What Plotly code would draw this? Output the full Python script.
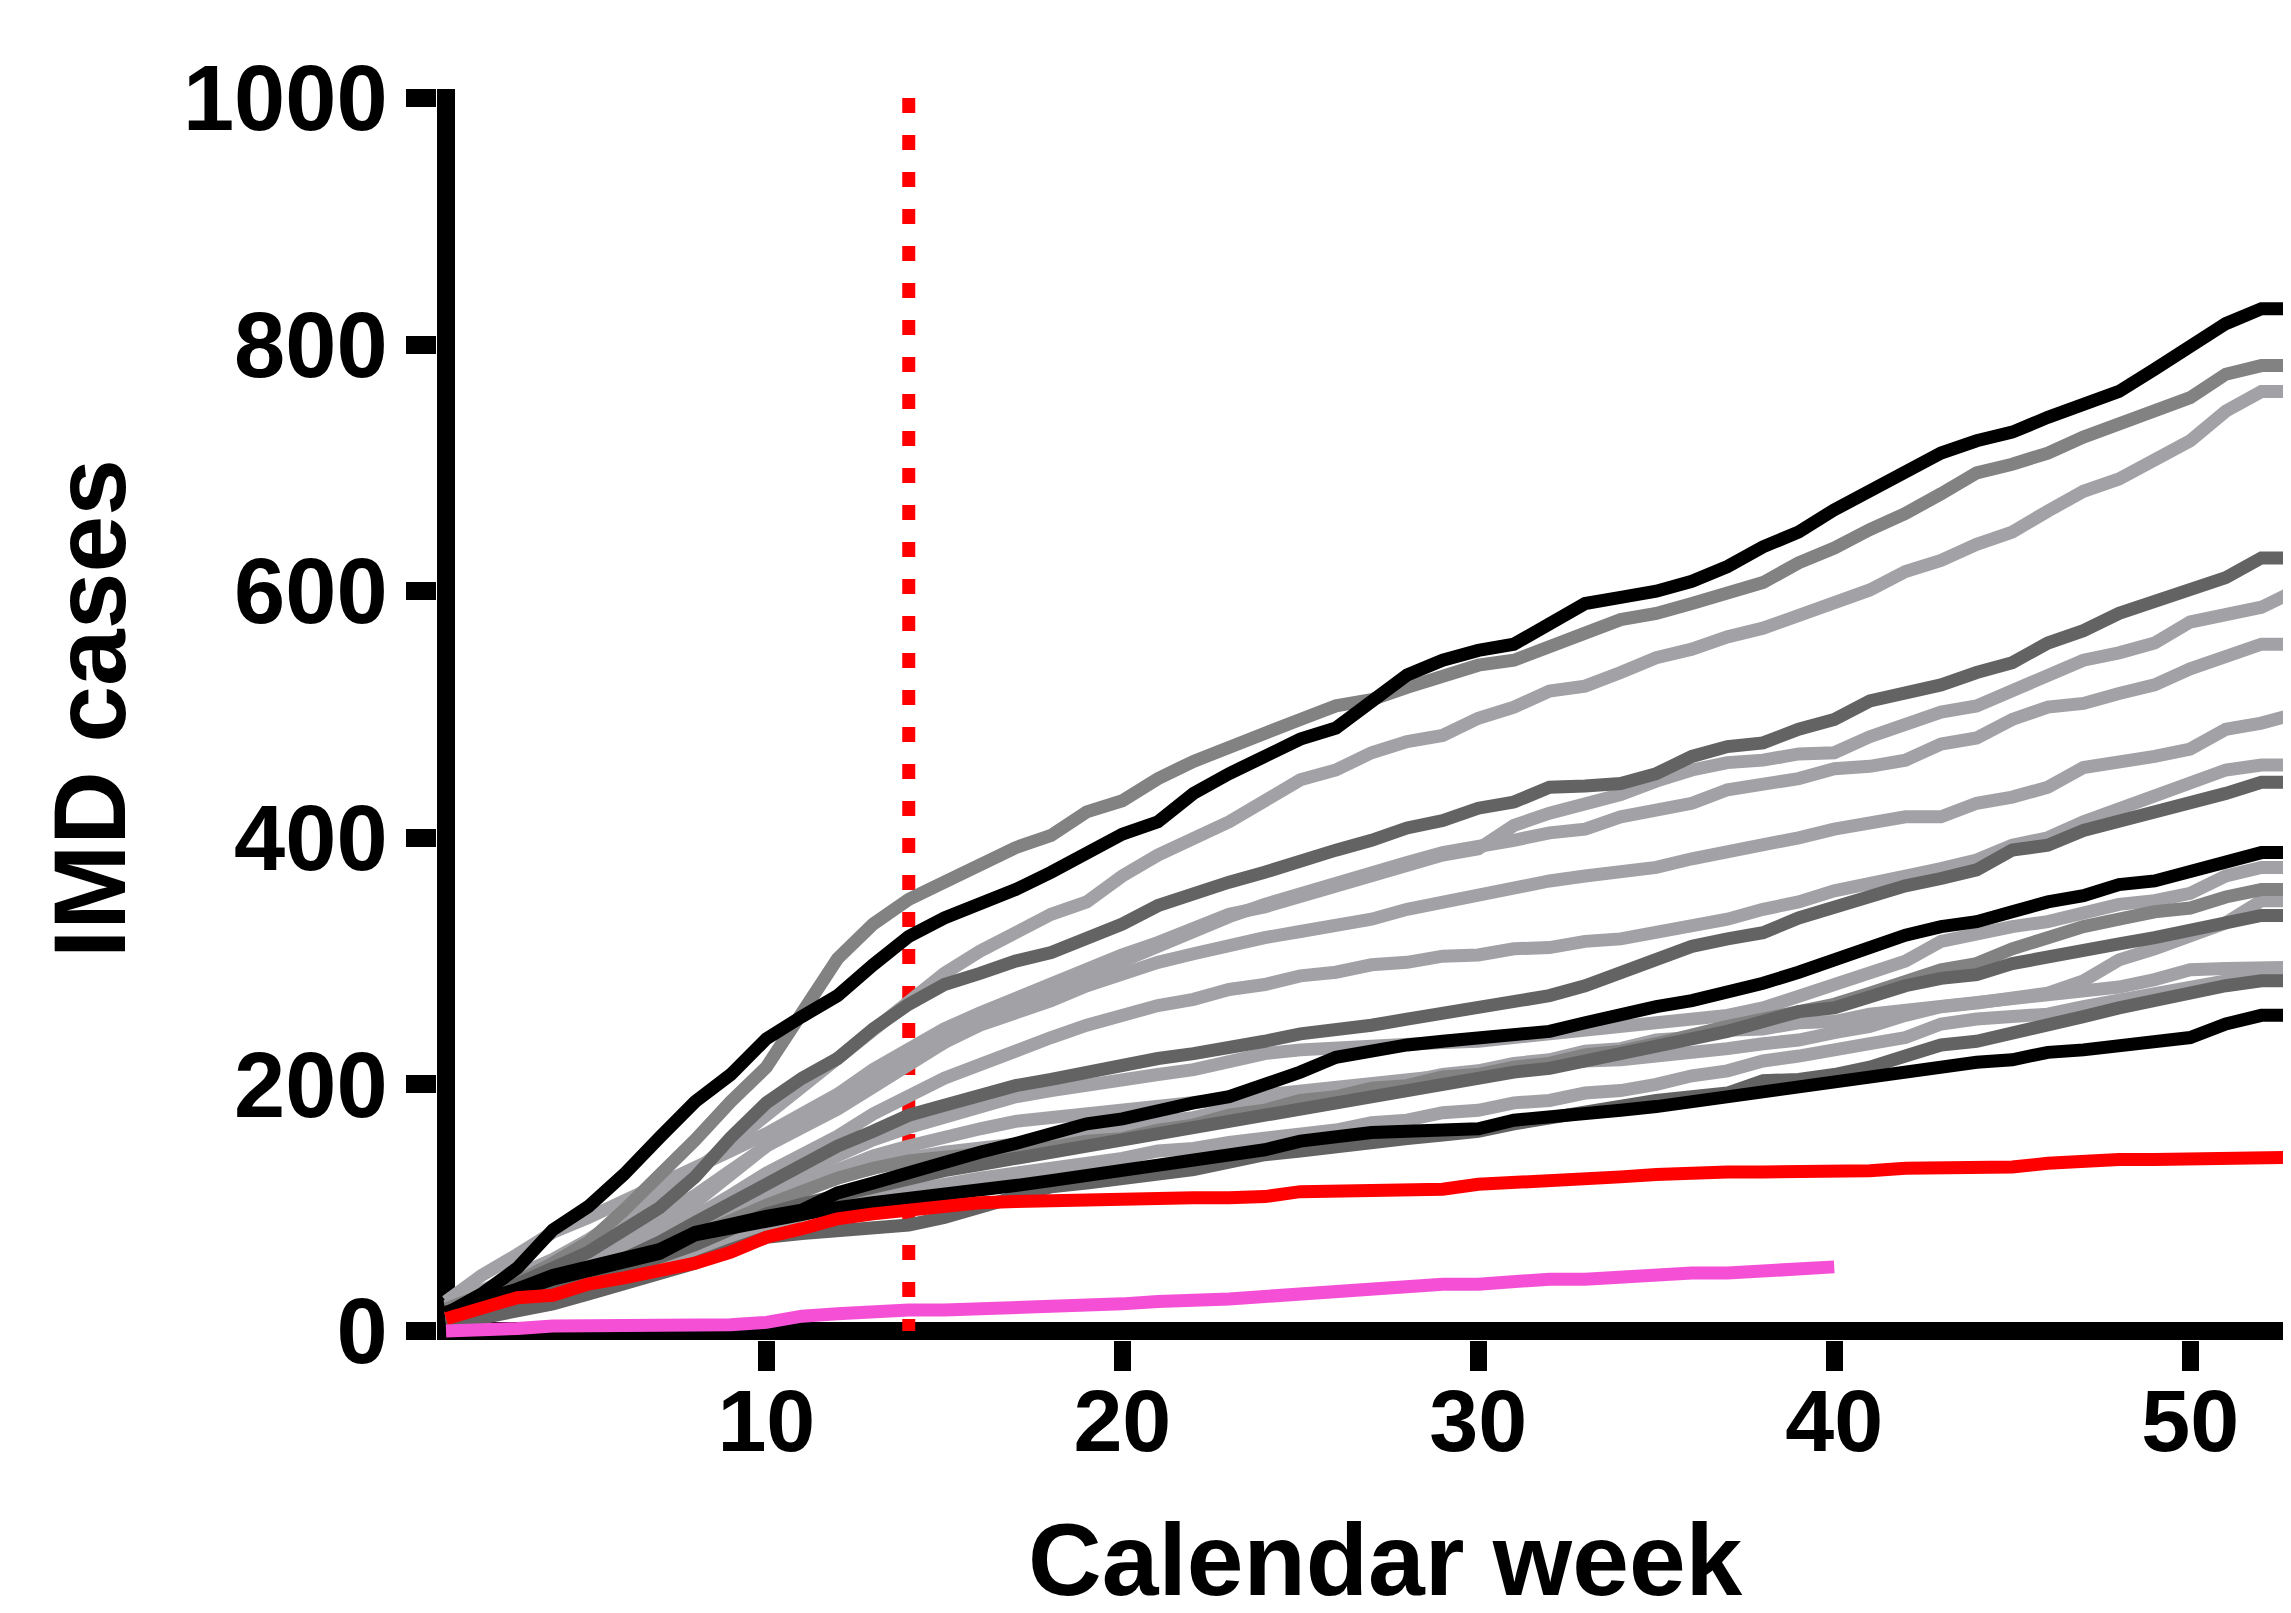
import plotly.graph_objects as go

# ---------------- data ----------------
weeks = list(range(1, 54))
pink_weeks = list(range(1, 41))
lockdown_week = 14
x_tick_vals = [10, 20, 30, 40, 50]
y_tick_vals = [0, 200, 400, 600, 800, 1000]

black_1 = [14,30,51,82,101,127,157,186,208,237, 255,272,297,320,335,346,358,372,388,403,
           413,436,452,465,480,489,510,532,544,552, 557,573,590,595,600,608,620,636,648,666,
           682,696,712,722,729,741,752,762,780,797, 817,829,829]
mid_1 = [18,28,40,55,72,98,125,155,186,214, 258,302,330,350,364,378,392,402,421,430,
         448,462,474,485,496,507,512,522,531,540, 544,554,566,577,582,590,598,607,623,635,
         650,663,679,696,703,712,725,736,747,757, 776,783,783]
light_1 = [20,32,45,58,74,92,110,130,152,175, 198,220,245,268,290,308,322,338,348,369,
           386,400,413,430,447,455,469,478,483,497, 506,519,523,534,546,553,563,570,580,590,
           601,616,625,638,648,665,681,691,707,722, 746,762,762]
dark_1 = [15,25,38,50,64,82,100,125,157,185, 205,221,245,265,281,290,300,307,318,330,
          345,355,364,372,382,390,398,408,414,424, 429,441,442,444,452,466,474,477,488,496,
          511,517,524,534,542,558,568,582,592,601, 611,627,627]
light_2 = [24,45,62,80,92,105,118,132,146,160, 175,192,212,230,245,258,270,282,294,305,
           315,326,338,344,352,360,368,377,386,391, 410,420,427,435,446,455,461,463,468,469,
           482,493,502,507,519,532,544,550,558,575, 580,587,601]
light_3 = [18,28,38,48,60,75,92,110,130,150, 165,180,198,215,235,252,265,278,290,300,
           312,325,336,346,355,364,372,380,388,392, 398,404,407,417,422,428,439,444,448,456,
           458,463,476,481,496,506,509,517,524,537, 548,557,557]
light_4 = [15,24,34,44,56,70,86,104,128,150, 168,188,204,220,234,248,257,268,280,290,
           299,306,313,319,324,328,334,342,348,352, 359,365,369,372,376,383,388,394,400,407,
           411,417,417,428,433,441,457,461,466,472, 488,493,501]
light_5 = [12,20,30,40,50,62,76,92,110,128, 142,158,176,192,205,216,228,238,248,256,
           264,269,277,281,288,291,297,299,304,305, 310,311,316,318,323,328,334,342,348,357,
           362,369,375,382,394,400,413,424,434,444, 455,459,459]
dark_2 = [10,18,27,36,45,58,72,88,104,120, 134,150,162,175,183,191,199,204,210,216,
          221,225,229,235,241,244,248,253,258,264, 268,272,280,290,300,312,318,323,335,344,
          353,361,367,374,390,394,406,413,420,429, 436,445,445]
black_2 = [15,24,34,45,52,59,66,80,87,93, 98,112,120,129,138,145,152,160,168,172,
           179,185,190,199,210,222,228,232,235,237, 241,243,250,257,263,268,274,282,291,301,
           310,321,328,332,340,348,353,362,365,373, 382,388,388]
light_6 = [12,20,28,37,46,57,70,84,100,115, 128,142,155,165,174,182,190,195,200,204,
           208,212,218,225,228,230,232,233,234,235, 238,241,243,246,250,252,256,262,272,280,
           290,300,316,323,328,332,340,346,349,355, 369,376,376]
mid_2 = [10,17,25,33,41,52,64,77,90,102, 113,124,132,138,141,143,146,149,154,156,
         163,167,175,179,187,190,197,199,206,208, 214,217,224,227,233,241,247,253,258,265,
         274,284,293,298,310,319,328,334,340,343, 352,358,358]
light_7 = [12,19,27,36,44,54,66,79,93,108, 120,132,142,150,158,164,170,173,178,180,
           182,187,189,193,195,197,202,204,206,211, 212,215,219,220,223,224,229,233,236,242,
           247,256,263,266,270,274,284,301,310,321, 331,349,349]
dark_3 = [10,16,23,31,40,50,60,70,82,95, 103,110,118,125,130,135,140,146,149,156,
          161,164,171,176,179,186,191,194,201,204, 210,213,219,225,229,236,243,251,259,262,
          271,280,286,289,298,304,310,314,319,325, 331,337,337]
light_8 = [15,22,30,38,46,55,66,78,90,104, 114,124,133,140,145,148,151,155,161,164,
           170,173,180,183,190,192,199,202,208,211, 217,220,227,229,236,238,244,245,250,251,
           257,260,264,268,271,274,276,279,285,293, 294,295,295]
light_9 = [8,13,19,26,34,42,51,62,73,85, 94,102,108,115,119,124,128,131,137,140,
           146,148,153,156,161,163,169,171,177,179, 185,187,193,195,200,207,211,219,223,229,
           233,238,249,253,254,257,263,268,272,279, 284,291,291]
dark_4 = [5,10,16,22,30,38,46,55,66,76, 79,81,83,86,92,100,107,117,120,123,
          127,131,137,143,146,150,153,156,159,162, 168,173,178,182,187,190,193,203,204,208,
          214,223,232,235,241,247,255,262,268,276, 280,284,284]
black_3 = [12,22,32,42,49,56,63,78,84,88, 95,100,104,107,111,114,118,122,126,129,
           133,137,143,147,154,158,161,162,162,164, 171,173,177,179,182,186,190,195,199,203,
           208,212,215,218,220,226,228,231,233,238, 249,256,256]
red_series = [10,19,27,29,38,43,48,55,64,76, 83,91,95,98,102,104,105,106,106,107,
              107,108,108,109,113,114,115,115,115,119, 120,121,122,125,127,129,129,129,129,129,
              130,132,132,133,133,136,138,139,139,139, 139,139,141]
pink_series = [0,0,2,4,4,4,4,5,5,7, 12,14,16,17,17,18,18,19,19,22,
               24,24,26,28,30,32,33,37,38,38, 41,42,42,44,46,47,47,48,51,52]

# ---------------- style ----------------
BLACK = "#000000"
DARK = "#636363"
MID = "#828282"
LIGHT = "#a2a2a6"
RED = "#ff0000"
PINK = "#f54fd6"
FONT = "Liberation Sans"
LW = 13

fig = go.Figure()

# dotted vertical marker at the lockdown week
fig.add_trace(go.Scatter(x=[lockdown_week, lockdown_week], y=[y_tick_vals[-1], y_tick_vals[0]],
                         mode="lines", line=dict(color=RED, width=13, dash="15px,22px"),
                         hoverinfo="skip"))

grey_series = [
    (light_1, LIGHT), (light_2, LIGHT), (light_3, LIGHT), (light_4, LIGHT), (light_5, LIGHT),
    (light_6, LIGHT), (light_7, LIGHT), (light_8, LIGHT), (light_9, LIGHT),
    (mid_1, MID), (mid_2, MID),
    (dark_1, DARK), (dark_2, DARK), (dark_3, DARK), (dark_4, DARK),
    (black_1, BLACK), (black_2, BLACK), (black_3, BLACK),
]
for vals, col in grey_series:
    fig.add_trace(go.Scatter(x=weeks, y=vals, mode="lines",
                             line=dict(color=col, width=LW), hoverinfo="skip"))

fig.add_trace(go.Scatter(x=weeks, y=red_series, mode="lines",
                         line=dict(color=RED, width=LW), hoverinfo="skip"))
fig.add_trace(go.Scatter(x=pink_weeks, y=pink_series, mode="lines",
                         line=dict(color=PINK, width=LW), hoverinfo="skip"))

W, H = 2291, 1613
ml, mr, mt, mb = 429, 2, 90, 281
plot_w = W - ml - mr
plot_h = H - mt - mb

fig.update_layout(
    width=W, height=H,
    margin=dict(l=ml, r=mr, t=mt, b=mb, pad=0),
    paper_bgcolor="white", plot_bgcolor="white",
    showlegend=False,
    xaxis=dict(range=[0.747, 53], tickvals=x_tick_vals, ticktext=[str(v) for v in x_tick_vals],
               ticks="outside", ticklen=30, tickwidth=17, tickcolor=BLACK,
               ticklabelstandoff=-26,
               showgrid=False, zeroline=False, showline=False,
               tickfont=dict(family=FONT, size=88, color=BLACK, weight=700)),
    yaxis=dict(range=[-7.3, 1000], tickvals=y_tick_vals, ticktext=[str(v) for v in y_tick_vals],
               ticks="outside", ticklen=30, tickwidth=18, tickcolor=BLACK,
               showgrid=False, zeroline=False, showline=False,
               tickfont=dict(family=FONT, size=92, color=BLACK, weight=700)),
    shapes=[
        dict(type="line", xref="x", yref="paper", x0=1, x1=1, y0=0, y1=1 + 9 / plot_h,
             line=dict(color=BLACK, width=18), layer="below"),
        dict(type="line", xref="paper", yref="y", x0=0, x1=1, y0=0, y1=0,
             line=dict(color=BLACK, width=18), layer="below"),
    ],
    annotations=[
        dict(text="IMD cases", xref="paper", yref="paper",
             x=(82 - ml) / plot_w, y=(mt + plot_h - 701) / plot_h,
             xanchor="center", yanchor="middle", textangle=-90, showarrow=False,
             font=dict(family=FONT, size=102, color=BLACK, weight=700)),
        dict(text="Calendar week", xref="paper", yref="paper",
             x=(1377 - ml) / plot_w, y=(mt + plot_h - 1552) / plot_h,
             xanchor="center", yanchor="middle", showarrow=False,
             font=dict(family=FONT, size=102, color=BLACK, weight=700)),
    ],
)

fig.write_html("out.html")
